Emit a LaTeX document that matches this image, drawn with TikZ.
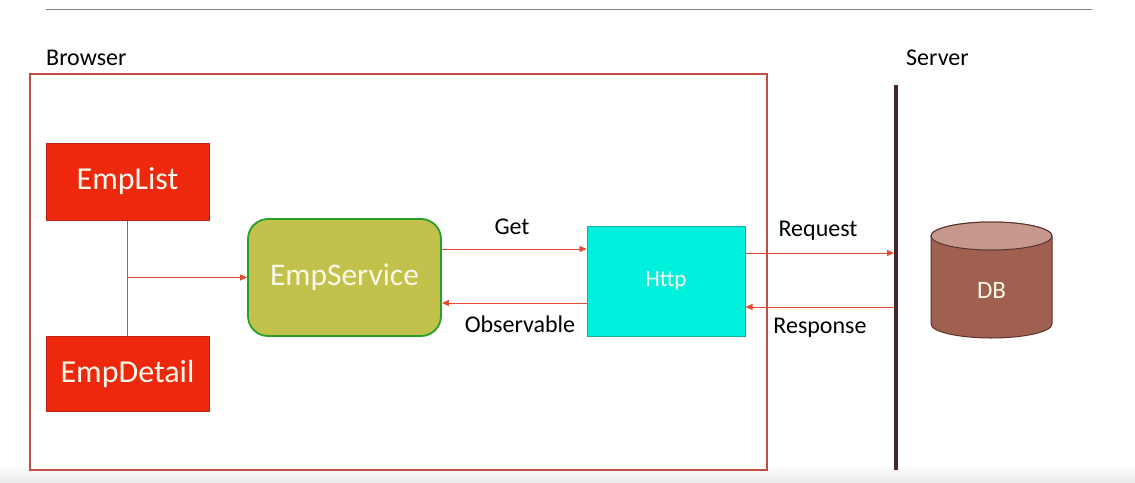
\documentclass[tikz,border=0pt]{standalone}
\usepackage{fontspec}
\setmainfont{Carlito}
\usetikzlibrary{arrows.meta,calc}
\definecolor{browserred}{RGB}{192,80,70}
\definecolor{arrred}{RGB}{232,72,50}
\definecolor{empred}{RGB}{238,40,12}
\definecolor{empredb}{RGB}{185,35,20}
\definecolor{olive}{RGB}{193,193,76}
\definecolor{oliveb}{RGB}{40,160,40}
\definecolor{cyanf}{RGB}{0,240,222}
\definecolor{cyanb}{RGB}{25,170,160}
\definecolor{dbbody}{RGB}{160,96,80}
\definecolor{dbtop}{RGB}{198,152,142}
\definecolor{dbline}{RGB}{90,50,45}
\definecolor{srvline}{RGB}{75,35,40}
\definecolor{txtw}{RGB}{250,248,235}
\tikzset{
  redbox/.style={draw=empredb,line width=1pt,fill=empred,minimum width=163pt,text=txtw,font=\fontsize{32}{34}\selectfont,inner sep=0pt},
  svcbox/.style={draw=oliveb,line width=1.8pt,fill=olive,rounded corners=20pt,minimum width=193pt,minimum height=117pt,text=txtw,font=\fontsize{31.5}{34}\selectfont,inner sep=0pt},
  httpbox/.style={draw=cyanb,line width=1pt,fill=cyanf,minimum width=158pt,minimum height=110pt,text=txtw,font=\fontsize{23}{24}\selectfont,inner sep=0pt},
  lbl/.style={font=\fontsize{24}{26}\selectfont,text=black,inner sep=0pt},
  conn/.style={draw=arrred,line width=0.9pt},
  arr/.style={conn,-{Triangle[length=7pt,width=6pt]}},
}
\begin{document}
\begin{tikzpicture}[x=1pt,y=-1pt]
\useasboundingbox (0,0) rectangle (1135,482);
\fill[white] (0,0) rectangle (1135,482);
\shade[top color=white,bottom color=black!8] (0,464) rectangle (1135,482);
% top rule
\coordinate (ruleL) at (46,9);
\coordinate (ruleR) at (1092,9);
\draw[black!50,line width=0.9pt] (ruleL) -- (ruleR);
% browser frame
\node[draw=browserred,line width=1.8pt,minimum width=737pt,minimum height=396pt,inner sep=0pt] (browser) at (398.5,272) {};
\node[lbl,anchor=west] (browserlbl) at (46,58) {Browser};
% server
\coordinate (srvTop) at (896,85);
\coordinate (srvBot) at (896,470);
\draw[srvline,line width=4pt] (srvTop) -- (srvBot);
\node[lbl,anchor=west] (serverlbl) at (906,58) {Server};
% nodes
\node[redbox,minimum height=77pt] (EmpList) at (127.5,181.5) {EmpList};
\node[redbox,minimum height=75pt] (EmpDetail) at (127.5,373.5) {EmpDetail};
\node[svcbox] (EmpService) at (344.5,277.5) {EmpService};
\node[httpbox] (Http) at (666,281) {Http};
% DB cylinder
\filldraw[fill=dbbody,draw=dbline,line width=1pt]
  (931,236) -- (931,324) arc[start angle=180,end angle=0,x radius=60.5,y radius=14]
  -- (1052,236) arc[start angle=0,end angle=-180,x radius=60.5,y radius=14] -- cycle;
\filldraw[fill=dbtop,draw=dbline,line width=1pt] (991.5,236) ellipse[x radius=60.5,y radius=14];
\node[text=txtw,font=\fontsize{25}{26}\selectfont,inner sep=0pt] (DB) at (991.5,290) {DB};
% connectors
\draw[conn] (EmpList.south) -- (EmpDetail.north);
\draw[arr] (EmpList.south |- EmpService.west) -- (EmpService.west);
\draw[arr] ([yshift=28.5pt]EmpService.east) -- ([yshift=28.5pt]EmpService.east -| Http.west);
\draw[arr] ([yshift=-22pt]Http.west) -- ([yshift=-22pt]Http.west -| EmpService.east);
\draw[arr,shorten >=2pt] ([yshift=28pt]Http.east) -- ([yshift=28pt]Http.east -| srvTop);
\draw[arr,shorten <=2pt] ([yshift=-26pt]Http.east -| srvTop) -- ([yshift=-26pt]Http.east);
% labels
\node[lbl] (getlbl) at (512,227) {Get};
\node[lbl] (obslbl) at (520,324) {Observable};
\node[lbl] (reqlbl) at (818,231) {Request};
\node[lbl] (reslbl) at (820,328) {Response};
\end{tikzpicture}
\end{document}
